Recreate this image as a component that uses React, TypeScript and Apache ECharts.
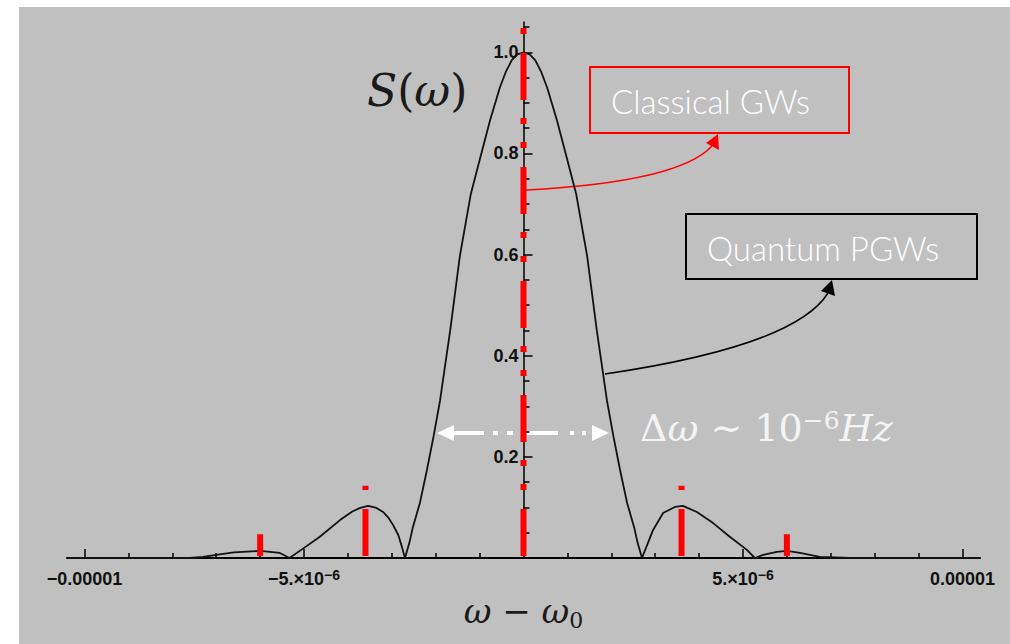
import React, { useEffect, useRef } from "react";
import * as echarts from "echarts";

// ---- data ----
// black curve S(omega): x in Hz (omega - omega0), y normalised spectrum
const curveX = [
  -10.4e-6, -7.6e-6, -7.3e-6, -7.0e-6, -6.6e-6, -6.0e-6, -5.55e-6, -5.33e-6,
  -5.0e-6, -4.64e-6, -4.18e-6, -3.9e-6, -3.72e-6, -3.54e-6, -3.35e-6, -3.2e-6,
  -3.08e-6, -2.97e-6, -2.85e-6, -2.77e-6, -2.7e-6, -2.6e-6, -2.52e-6, -2.36e-6,
  -2.2e-6, -2.05e-6, -1.9e-6, -1.67e-6, -1.45e-6, -1.2e-6, -0.99e-6, -0.76e-6,
  -0.54e-6, -0.4e-6, -0.27e-6, -0.14e-6, 0, 0.14e-6, 0.27e-6, 0.4e-6, 0.54e-6,
  0.76e-6, 0.99e-6, 1.2e-6, 1.45e-6,
  1.67e-6, 1.9e-6, 2.05e-6, 2.2e-6, 2.36e-6, 2.52e-6, 2.6e-6, 2.7e-6, 2.95e-6,
  3.18e-6, 3.45e-6, 3.63e-6, 3.95e-6, 4.32e-6, 4.7e-6, 5.09e-6, 5.27e-6,
  5.46e-6, 5.77e-6, 6.0e-6, 6.3e-6, 6.75e-6, 7.44e-6, 10.4e-6,
];
const curveY = [
  0, 0, 0.002, 0.006, 0.011, 0.014, 0.01, 0,
  0.02, 0.042, 0.075, 0.092, 0.099, 0.103, 0.099, 0.091,
  0.08, 0.065, 0.045, 0.022, 0, 0.03, 0.061, 0.109,
  0.174, 0.24, 0.312, 0.45, 0.597, 0.72, 0.79, 0.866,
  0.93, 0.962, 0.984, 0.996, 1.0, 0.996, 0.984, 0.962, 0.93,
  0.866, 0.79, 0.72, 0.597,
  0.45, 0.312, 0.24, 0.174, 0.109, 0.061, 0.03, 0, 0.055,
  0.089, 0.101, 0.103, 0.091, 0.069, 0.042, 0.016, 0,
  0.006, 0.012, 0.014, 0.01, 0.002, 0, 0,
];

// red "classical GWs" lines
const classicalX = [-6.0e-6, -3.6e-6, 0, 3.6e-6, 6.0e-6];
const classicalTop = [0.047, 0.143, 1.049, 0.143, 0.047];
const classicalBase = 0.004;

// axis ticks
const xMajorTicks = [-1e-5, -5e-6, 5e-6, 1e-5];
const xMinorTicks = [
  -9e-6, -8e-6, -7e-6, -6e-6, -4e-6, -3e-6, -2e-6, -1e-6,
  1e-6, 2e-6, 3e-6, 4e-6, 6e-6, 7e-6, 8e-6, 9e-6,
];
const xTickLabels = ["{b|−0.00001}", "{b|−5.×10}{s|−6}", "{b|5.×10}{s|−6}", "{b|0.00001}"];
const yMajorTicks = [0.2, 0.4, 0.6, 0.8, 1.0];
const yTickLabels = ["0.2", "0.4", "0.6", "0.8", "1.0"];
const yMinorTicks = [
  0.05, 0.1, 0.15, 0.25, 0.3, 0.35, 0.45, 0.5, 0.55, 0.65, 0.7, 0.75,
  0.85, 0.9, 0.95, 1.05,
];

const X_MIN = -1.04e-5;
const X_MAX = 1.04e-5;
const Y_MIN = 0;
const Y_MAX = 1.06;

// page offset of the grey panel
const OX = 19;
const OY = 7;
const P = (x: number) => x - OX;
const Q = (y: number) => y - OY;

// plot area (panel coordinates)
const GL = 48;
const GW = 913;
const GT = 15;
const GH = 536;

const serif = "'DejaVu Serif', 'Liberation Serif', serif";
const sans = "'Liberation Sans', Arial, sans-serif";
const light = "Lato, 'Open Sans', sans-serif";

export default function App() {
  const ref = useRef<HTMLDivElement>(null);

  useEffect(() => {
    if (!ref.current) return;
    const chart = echarts.init(ref.current, undefined, { renderer: "svg" });

    const near = (a: number, b: number) => Math.abs(a - b) < 1e-9;
    const xLabel = (v: number) => {
      const i = xMajorTicks.findIndex((t) => near(t, v));
      return i >= 0 ? xTickLabels[i] : "";
    };
    const yLabel = (v: number) => {
      const i = yMajorTicks.findIndex((t) => near(t, v));
      return i >= 0 ? yTickLabels[i] : "";
    };

    const curveData = curveX.map((x, i) => [x, curveY[i]]);

    const redSeries = classicalX.map((x, i) => ({
      type: "line",
      name: "Classical GWs " + i,
      xAxisIndex: 0,
      yAxisIndex: 0,
      data: [
        [x, classicalBase],
        [x, classicalTop[i]],
      ],
      showSymbol: false,
      symbol: "none",
      silent: true,
      z: 4,
      lineStyle: {
        color: "#ff0000",
        width: 6,
        type: [47, 19, 6, 18, 6, 18],
        cap: "butt",
      },
    }));

    const whiteSegs = [
      [453, 484],
      [493, 498],
      [507, 513],
      [526, 558],
      [570, 574],
      [582, 586],
    ];

    // x position of omega = 0 inside the panel (where the S axis stands)
    const zeroX = GL + (GW * (0 - X_MIN)) / (X_MAX - X_MIN);

    const option: any = {
      animation: false,
      backgroundColor: "#c0c0c0",
      grid: [
        { left: GL, width: GW, top: GT, height: GH, containLabel: false },
        { left: zeroX, width: 300, top: GT, height: GH, containLabel: false },
      ],
      xAxis: [
        {
          type: "value",
          gridIndex: 0,
          min: X_MIN,
          max: X_MAX,
          position: "bottom",
          name: "{i|ω}{n| − }{i|ω}{sub|0}",
          nameLocation: "middle",
          nameGap: 33,
          nameTextStyle: {
            rich: {
              i: { fontFamily: serif, fontStyle: "italic", fontSize: 34, color: "#1a1a1a", lineHeight: 40 },
              n: { fontFamily: serif, fontSize: 34, color: "#1a1a1a", lineHeight: 40 },
              sub: { fontFamily: serif, fontSize: 22, color: "#1a1a1a", lineHeight: 28, verticalAlign: "bottom" },
            },
          },
          axisLine: { show: true, onZero: false, lineStyle: { color: "#000", width: 2 } },
          axisTick: {
            show: true,
            inside: true,
            length: 9,
            customValues: xMajorTicks,
            lineStyle: { color: "#000", width: 1.5 },
          },
          axisLabel: {
            show: true,
            customValues: xMajorTicks,
            margin: 10,
            formatter: xLabel,
            rich: {
              b: { fontFamily: sans, fontWeight: "bold", fontSize: 18, color: "#111", lineHeight: 22 },
              s: { fontFamily: sans, fontWeight: "bold", fontSize: 14, color: "#111", lineHeight: 8, verticalAlign: "top" },
            },
          },
          splitLine: { show: false },
        },
        {
          type: "value",
          gridIndex: 0,
          min: X_MIN,
          max: X_MAX,
          position: "bottom",
          axisLine: { show: false, onZero: false },
          axisTick: {
            show: true,
            inside: true,
            length: 5,
            customValues: xMinorTicks,
            lineStyle: { color: "#000", width: 1.5 },
          },
          axisLabel: { show: false },
          splitLine: { show: false },
        },
        {
          type: "value",
          gridIndex: 1,
          show: false,
          min: 0,
          max: 1,
        },
      ],
      yAxis: [
        {
          type: "value",
          gridIndex: 0,
          min: Y_MIN,
          max: Y_MAX,
          show: false,
        },
        {
          type: "value",
          gridIndex: 1,
          min: Y_MIN,
          max: Y_MAX,
          position: "left",
          axisLine: { show: true, onZero: false, lineStyle: { color: "#000", width: 1.5 } },
          axisTick: {
            show: true,
            inside: true,
            length: 9,
            customValues: yMajorTicks,
            lineStyle: { color: "#000", width: 1.5 },
          },
          axisLabel: {
            show: true,
            customValues: yMajorTicks,
            margin: 5,
            formatter: yLabel,
            fontFamily: sans,
            fontWeight: "bold",
            fontSize: 18,
            color: "#111",
          },
          splitLine: { show: false },
        },
        {
          type: "value",
          gridIndex: 1,
          min: Y_MIN,
          max: Y_MAX,
          position: "left",
          axisLine: { show: false, onZero: false },
          axisTick: {
            show: true,
            inside: true,
            length: 6,
            customValues: yMinorTicks,
            lineStyle: { color: "#000", width: 1.5 },
          },
          axisLabel: { show: false },
          splitLine: { show: false },
        },
      ],
      series: [
        {
          type: "line",
          name: "Quantum PGWs",
          xAxisIndex: 0,
          yAxisIndex: 0,
          data: curveData,
          showSymbol: false,
          symbol: "none",
          silent: true,
          z: 3,
          lineStyle: { color: "#111", width: 1.8 },
        },
        ...redSeries,
      ],
      graphic: [
        // S(omega)
        {
          type: "text",
          x: P(367),
          y: Q(90),
          style: {
            text: "{i|S}{n|(}{i|ω}{n|)}",
            textVerticalAlign: "middle",
            verticalAlign: "middle",
            rich: {
              i: { fontFamily: serif, fontStyle: "italic", fontSize: 44, fill: "#1a1a1a", lineHeight: 54 },
              n: { fontFamily: serif, fontSize: 44, fill: "#1a1a1a", lineHeight: 54 },
            },
          },
        },
        // Classical GWs box
        {
          type: "rect",
          shape: { x: P(590), y: Q(67), width: 259, height: 66 },
          style: { fill: "none", stroke: "#ff0000", lineWidth: 2 },
        },
        {
          type: "text",
          x: P(611),
          y: Q(101),
          style: {
            text: "Classical GWs",
            fontFamily: light,
            fontWeight: 300,
            fontSize: 33,
            fill: "#ffffff",
            textVerticalAlign: "middle",
            verticalAlign: "middle",
          },
        },
        // red arrow
        {
          type: "bezierCurve",
          shape: { x1: P(526), y1: Q(190), x2: P(712), y2: Q(146), cpx1: P(679), cpy1: Q(182) },
          style: { fill: "none", stroke: "#ff0000", lineWidth: 1.5 },
        },
        {
          type: "polygon",
          shape: { points: [[P(718), Q(134)], [P(706), Q(143)], [P(719), Q(150)]] },
          style: { fill: "#ff0000" },
        },
        // Quantum PGWs box
        {
          type: "rect",
          shape: { x: P(686), y: Q(214), width: 291, height: 65 },
          style: { fill: "none", stroke: "#000000", lineWidth: 2 },
        },
        {
          type: "text",
          x: P(707),
          y: Q(248),
          style: {
            text: "Quantum PGWs",
            fontFamily: light,
            fontWeight: 300,
            fontSize: 33,
            fill: "#ffffff",
            textVerticalAlign: "middle",
            verticalAlign: "middle",
          },
        },
        // black arrow
        {
          type: "bezierCurve",
          shape: { x1: P(605), y1: Q(374), x2: P(828), y2: Q(293), cpx1: P(795), cpy1: Q(346) },
          style: { fill: "none", stroke: "#000000", lineWidth: 1.5 },
        },
        {
          type: "polygon",
          shape: { points: [[P(832), Q(280)], [P(821), Q(291)], [P(835), Q(296)]] },
          style: { fill: "#000000" },
        },
        // delta-omega double arrow (white)
        ...whiteSegs.map((s) => ({
          type: "line",
          shape: { x1: P(s[0]), y1: Q(433), x2: P(s[1]), y2: Q(433) },
          style: { stroke: "#ffffff", lineWidth: 4 },
        })),
        {
          type: "polygon",
          shape: { points: [[P(437), Q(433)], [P(454), Q(425)], [P(454), Q(441)]] },
          style: { fill: "#ffffff" },
        },
        {
          type: "polygon",
          shape: { points: [[P(609), Q(433)], [P(592), Q(425)], [P(592), Q(441)]] },
          style: { fill: "#ffffff" },
        },
        {
          type: "text",
          x: P(640),
          y: Q(428),
          style: {
            text: "{n|Δ}{i|ω}{n| ∼ 10}{s|−6}{i|Hz}",
            textVerticalAlign: "middle",
            verticalAlign: "middle",
            rich: {
              i: { fontFamily: serif, fontStyle: "italic", fontSize: 38, fill: "#f4f4f4", lineHeight: 40 },
              n: { fontFamily: serif, fontSize: 38, fill: "#f4f4f4", lineHeight: 40 },
              s: { fontFamily: serif, fontSize: 25, fill: "#f4f4f4", lineHeight: 16, verticalAlign: "top" },
            },
          },
        },
      ],
    };

    chart.setOption(option);
    return () => chart.dispose();
  }, []);

  return (
    <div
      style={{
        position: "absolute",
        left: 0,
        top: 0,
        width: 1010,
        height: 644,
        background: "#ffffff",
      }}
    >
      <div
        ref={ref}
        style={{ position: "absolute", left: OX, top: OY, width: 1010 - OX, height: 644 - OY }}
      />
    </div>
  );
}
